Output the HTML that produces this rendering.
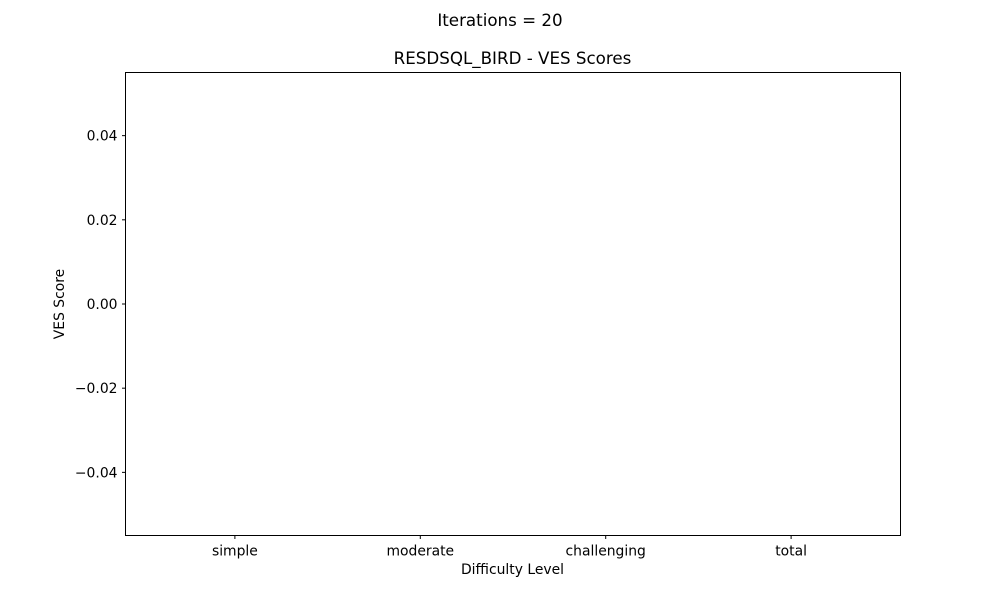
<!DOCTYPE html>
<html><head><meta charset="utf-8"><style>
body{margin:0;background:#fff;}
svg text{font-family:"DejaVu Sans","Liberation Sans",sans-serif;fill:#000;}
</style></head><body>
<svg id="chart" width="1000" height="600" xmlns="http://www.w3.org/2000/svg">
<rect width="1000" height="600" fill="#fff"/>
<text x="500" y="26" text-anchor="middle" font-size="16.7">Iterations = 20</text>
<text x="512.5" y="64" text-anchor="middle" font-size="16.7">RESDSQL_BIRD - VES Scores</text>
<g id="ticks"></g>
<g id="bars"></g>
<rect x="125.5" y="72.5" width="775" height="463" fill="none" stroke="#000" stroke-width="1"/>
<text x="512.5" y="574" text-anchor="middle" font-size="13.9">Difficulty Level</text>
<text transform="translate(64,304) rotate(-90)" text-anchor="middle" font-size="13.9">VES Score</text>
</svg>
<script>
const categories=["simple","moderate","challenging","total"];
const values=[0,0,0,0];
const yTicks=[0.04,0.02,0.00,-0.02,-0.04];
const yTickLabels=["0.04","0.02","0.00","\u22120.02","\u22120.04"];
const L=125.5,R=900.5,T=72.5,B=535.5,ymin=-0.055,ymax=0.055;
const ys=v=>B-(v-ymin)/(ymax-ymin)*(B-T);
const n=categories.length, xmin=-0.59, xmax=n-1+0.59;
const xs=i=>L+(i-xmin)/(xmax-xmin)*(R-L);
const NS="http://www.w3.org/2000/svg";
const tg=document.getElementById('ticks'), bg=document.getElementById('bars');
function mk(tag,attrs,parent){const e=document.createElementNS(NS,tag);for(const k in attrs)e.setAttribute(k,attrs[k]);parent.appendChild(e);return e;}
yTicks.forEach((v,i)=>{const y=ys(v);
 const l=mk('line',{x1:L-3.5,x2:L,y1:y,y2:y,stroke:'#000'},tg);
 
 
 const t=mk('text',{x:L-8,y:y+5,'text-anchor':'end','font-size':'13.9'},tg);t.textContent=yTickLabels[i];
 
 
});
categories.forEach((c,i)=>{const x=xs(i);
 const l=mk('line',{x1:x,x2:x,y1:B,y2:B+3.5,stroke:'#000'},tg);
 
 
 const t=mk('text',{x:x,y:B+20,'text-anchor':'middle','font-size':'13.9'},tg);t.textContent=c;
 
 
 const w=(xs(0.8)-xs(0));
 const y0=ys(0),y1=ys(values[i]);
 const r=mk('rect',{x:x-w/2,y:Math.min(y0,y1),width:w,height:Math.abs(y1-y0),fill:'#1f77b4'},bg);
 
 
});
</script>
</body></html>
